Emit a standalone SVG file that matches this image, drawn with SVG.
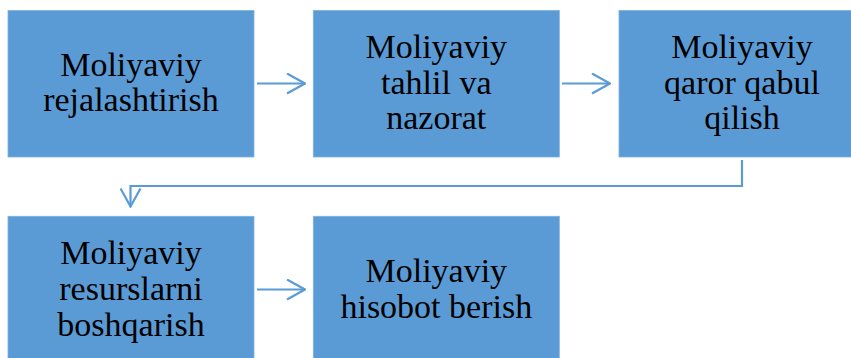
<svg xmlns="http://www.w3.org/2000/svg" width="851" height="358" viewBox="0 0 851 358">
<style>
.box{fill:#5b9bd5;stroke:#7fb0de;stroke-width:0.8}
.lbl{font-family:'Liberation Serif','DejaVu Serif',serif;font-size:34px;fill:#000;text-anchor:middle}
.con{fill:none;stroke:#5b9bd5;stroke-width:2.2}
</style>
<defs>
<marker id="arr" viewBox="0 0 20 22" refX="19" refY="11" markerWidth="20" markerHeight="22" markerUnits="userSpaceOnUse" orient="auto">
<path d="M1,1 L19,11 L1,21" fill="none" stroke="#5b9bd5" stroke-width="2.2"/>
</marker>
</defs>
<rect width="851" height="358" fill="#fff"/>
<g id="n1"><rect class="box" x="8" y="10.5" width="246" height="146.5"/>
<text class="lbl" font-family="Liberation Serif, serif" x="131" y="76">Moliyaviy</text><text class="lbl" font-family="Liberation Serif, serif" x="131" y="111">rejalashtirish</text></g>
<g id="n2"><rect class="box" x="313.3" y="10.5" width="246" height="146.5"/>
<text class="lbl" x="436.3" y="58.3">Moliyaviy</text><text class="lbl" x="436.3" y="94">tahlil va</text><text class="lbl" x="436.3" y="129">nazorat</text></g>
<g id="n3"><rect class="box" x="619" y="10.5" width="246" height="146.5"/>
<text class="lbl" x="742" y="58.3">Moliyaviy</text><text class="lbl" x="742" y="94">qaror qabul</text><text class="lbl" x="742" y="129">qilish</text></g>
<g id="n4"><rect class="box" x="8" y="216.3" width="246" height="150"/>
<text class="lbl" x="131" y="263.5">Moliyaviy</text><text class="lbl" x="131" y="300">resurslarni</text><text class="lbl" x="131" y="335.5">boshqarish</text></g>
<g id="n5"><rect class="box" x="313.3" y="216.3" width="246" height="150"/>
<text class="lbl" x="436.3" y="282">Moliyaviy</text><text class="lbl" x="436.3" y="318">hisobot berish</text></g>
<g id="connectors">
<path class="con" d="M257,83.5 H305" marker-end="url(#arr)"/>
<path class="con" d="M562,83.5 H610" marker-end="url(#arr)"/>
<path class="con" d="M742,160 V186 H130.5 V206.5" marker-end="url(#arr)"/>
<path class="con" d="M257,289.5 H305" marker-end="url(#arr)"/>
</g>
</svg>
